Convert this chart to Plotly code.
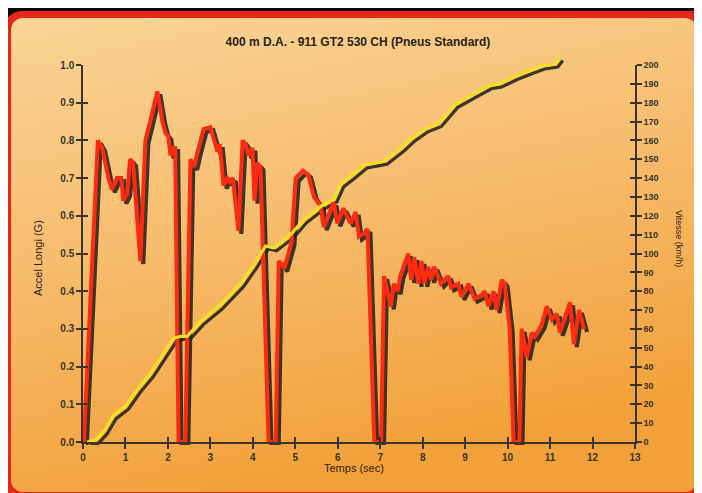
import base64
import plotly.graph_objects as go

# ---- data ----
acc_t = [0.00, 0.02, 0.35, 0.45, 0.60, 0.68, 0.80, 0.90, 0.95, 1.04, 1.11, 1.18, 1.35, 1.47, 1.58,
         1.75, 1.87, 1.94, 2.01, 2.06, 2.10, 2.17, 2.25, 2.41, 2.53, 2.62, 2.70, 2.84, 3.00, 3.10,
         3.17, 3.22, 3.31, 3.40, 3.46, 3.53, 3.66, 3.76, 3.83, 3.90, 3.99, 4.04, 4.10, 4.18, 4.23,
         4.37, 4.54, 4.61, 4.70, 4.74, 4.91, 5.01, 5.18, 5.30, 5.44, 5.60, 5.67, 5.90, 5.99, 6.13,
         6.30, 6.42, 6.50, 6.62, 6.70, 6.86, 7.02, 7.09, 7.25, 7.32, 7.41, 7.47, 7.66, 7.73, 7.80,
         7.90, 7.97, 8.04, 8.13, 8.20, 8.27, 8.43, 8.60, 8.67, 8.84, 8.91, 9.08, 9.22, 9.39, 9.46,
         9.55, 9.67, 9.74, 9.86, 9.93, 10.05, 10.14, 10.28, 10.33, 10.45, 10.57, 10.64, 10.80, 10.92,
         11.04, 11.16, 11.23, 11.35, 11.47, 11.56, 11.68, 11.80]
acc_g = [0.00, 0.00, 0.80, 0.78, 0.70, 0.67, 0.70, 0.70, 0.64, 0.66, 0.75, 0.74, 0.48, 0.80, 0.85,
         0.93, 0.85, 0.82, 0.81, 0.76, 0.78, 0.78, 0.00, 0.00, 0.75, 0.73, 0.77, 0.83, 0.835, 0.80,
         0.77, 0.79, 0.68, 0.70, 0.69, 0.70, 0.56, 0.80, 0.79, 0.76, 0.78, 0.64, 0.74, 0.73, 0.53,
         0.00, 0.00, 0.48, 0.47, 0.46, 0.53, 0.70, 0.72, 0.71, 0.65, 0.625, 0.57, 0.635, 0.58, 0.62,
         0.58, 0.61, 0.545, 0.555, 0.565, 0.00, 0.00, 0.44, 0.36, 0.42, 0.40, 0.44, 0.50, 0.43, 0.49,
         0.42, 0.48, 0.42, 0.465, 0.43, 0.465, 0.42, 0.44, 0.41, 0.42, 0.385, 0.42, 0.38, 0.39, 0.40,
         0.36, 0.40, 0.35, 0.43, 0.42, 0.30, 0.00, 0.00, 0.30, 0.225, 0.29, 0.28, 0.31, 0.36,
         0.325, 0.34, 0.29, 0.33, 0.37, 0.26, 0.35, 0.30]

spd_t = [0.10, 0.30, 0.50, 0.71, 1.00, 1.28, 1.58, 1.85, 2.13, 2.29, 2.45, 2.77, 3.20, 3.71, 4.02,
         4.30, 4.49, 4.89, 5.20, 5.37, 5.60, 5.91, 6.07, 6.30, 6.62, 7.09, 7.49, 7.73, 8.04, 8.37,
         8.75, 9.22, 9.55, 9.79, 10.17, 10.50, 10.80, 11.11, 11.23]
spd_kmh = [0, 1, 6, 14, 19, 28, 36, 45, 55, 56, 56, 64, 72, 84, 94,
           104, 103, 110, 118, 121, 125, 129, 137, 141, 147, 149, 156, 161, 166, 169,
           179, 185, 189, 190, 194, 197, 199.5, 200.5, 204]

x_ticks = list(range(0, 14))
acc_ticks = [i / 10 for i in range(0, 11)]
spd_ticks = list(range(0, 210, 10))

TITLE = "400 m D.A. - 911 GT2 530 CH (Pneus Standard)"
X_TITLE = "Temps (sec)"
Y_TITLE = "Accel Longi (G)"
Y2_TITLE = "Vitesse (km/h)"

# ---- layout geometry (figure pixels) ----
W, H = 702, 493
X0, X1 = 75, 627        # plot left / right
Y_TOP, Y_BOT = 57, 434  # y of top value (1.0 / 200) and of zero
SH = 3                  # shadow offset
HEAD = 10               # head room for the speed line overshoot
L, R = X0, W - (X1 + SH)
T, B = Y_TOP - HEAD, H - (Y_BOT + SH)
PW, PH = W - L - R, H - T - B


def fx(px):
    return (px - L) / PW


def fy(py):
    return (H - B - py) / PH


SPD_MAX = 200 * (Y_BOT - T) / (Y_BOT - Y_TOP)

RED = "#FF2A12"
YEL = "#F4DF24"
SHADOW = "rgba(38,34,26,0.88)"
AX = "#3a3526"
TXT = "#2a2418"
FONT = "Liberation Sans"

svg = f"""<svg xmlns='http://www.w3.org/2000/svg' width='{W}' height='{H}' viewBox='0 0 {W} {H}'>
<defs><linearGradient id='g' x1='0' y1='0' x2='0.3' y2='1'>
<stop offset='0' stop-color='#FAD496'/><stop offset='0.45' stop-color='#F7BE72'/>
<stop offset='1' stop-color='#F2A13A'/></linearGradient></defs>
<rect width='{W}' height='{H}' fill='#0b0806'/>
<rect x='-4' y='3' width='720' height='510' rx='18' fill='#E8261C'/>
<rect x='3' y='10' width='686' height='474' rx='12' fill='url(#g)'/>
</svg>"""
src = "data:image/svg+xml;base64," + base64.b64encode(svg.encode()).decode()

fig = go.Figure()

# shadow traces (first subplot -> drawn underneath)
fig.add_trace(go.Scatter(x=acc_t, y=acc_g, mode="lines", xaxis="x", yaxis="y",
                         line=dict(color=SHADOW, width=4), showlegend=False, hoverinfo="skip"))
fig.add_trace(go.Scatter(x=spd_t, y=spd_kmh, mode="lines", xaxis="x", yaxis="y2",
                         line=dict(color=SHADOW, width=3.2), showlegend=False, hoverinfo="skip"))
# main traces
fig.add_trace(go.Scatter(x=acc_t, y=acc_g, mode="lines", xaxis="x2", yaxis="y3",
                         line=dict(color=RED, width=4), showlegend=False))
fig.add_trace(go.Scatter(x=spd_t, y=spd_kmh, mode="lines", xaxis="x2", yaxis="y7",
                         line=dict(color=YEL, width=3.2), showlegend=False))
# dummy traces hosting axis overlays
for xa, ya in [("x2", "y4"), ("x3", "y3"), ("x2", "y5"), ("x2", "y6")]:
    fig.add_trace(go.Scatter(x=[None], y=[None], xaxis=xa, yaxis=ya, showlegend=False,
                             hoverinfo="skip"))

hidden = dict(visible=False, fixedrange=True)
tickfont = dict(family=FONT, size=10, color=AX, weight="bold")
line_common = dict(showgrid=False, zeroline=False, fixedrange=True, tickwidth=1.5,
                   tickcolor=AX, ticklen=5)

main_y_dom = [fy(Y_BOT), fy(Y_TOP)]

fig.update_layout(
    width=W, height=H,
    margin=dict(l=L, r=R, t=T, b=B),
    paper_bgcolor="#0b0806",
    plot_bgcolor="rgba(0,0,0,0)",
    showlegend=False,
    images=[dict(source=src, xref="paper", yref="paper", x=-L / PW, y=1 + T / PH,
                 sizex=W / PW, sizey=H / PH, xanchor="left", yanchor="top",
                 sizing="stretch", layer="below")],
    # shadow axes (hidden, offset right/down)
    xaxis=dict(domain=[fx(X0 + SH), fx(X1 + SH)], range=[0, 13], anchor="y", **hidden),
    yaxis=dict(domain=[fy(Y_BOT + SH), fy(Y_TOP + SH)], range=[0, 1], anchor="x", **hidden),
    yaxis2=dict(domain=[fy(Y_BOT + SH), fy(T + SH)], range=[0, SPD_MAX], anchor="x", **hidden),
    # visible axes
    xaxis2=dict(domain=[fx(X0), fx(X1)], range=[0, 13], anchor="y3", tickvals=x_ticks,
                ticks="outside", showline=True, linecolor=AX, linewidth=1.5,
                tickfont=tickfont, **line_common),
    yaxis3=dict(domain=main_y_dom, range=[0, 1], anchor="x2", tickvals=acc_ticks,
                tickformat=".1f", ticks="outside", showline=True, linecolor=AX, linewidth=1.5,
                tickfont=tickfont, **line_common),
    yaxis4=dict(range=[0, 200], overlaying="y3", anchor="x2", side="right", tickvals=spd_ticks,
                ticks="outside", showline=True, linecolor=AX, linewidth=1.5,
                tickfont=dict(family=FONT, size=9, color=AX, weight="bold"), **line_common),
    # hidden axis for the speed line, with head room so the overshoot is not clipped
    yaxis7=dict(domain=[fy(Y_BOT), fy(T)], range=[0, SPD_MAX], anchor="x2", **hidden),
    # inside-tick overlays so ticks cross the axis lines
    xaxis3=dict(range=[0, 13], overlaying="x2", anchor="y3", side="bottom", tickvals=x_ticks,
                ticks="inside", showticklabels=False, showline=False, **line_common),
    yaxis5=dict(range=[0, 1], overlaying="y3", anchor="x2", side="left", tickvals=acc_ticks,
                ticks="inside", showticklabels=False, showline=False, **line_common),
    yaxis6=dict(range=[0, 200], overlaying="y3", anchor="x2", side="right", tickvals=spd_ticks,
                ticks="inside", showticklabels=False, showline=False, **line_common),
    title=dict(text=f"<b>{TITLE}</b>", x=fx(350), xref="paper", y=1 - 34 / H, yref="container",
               xanchor="center", yanchor="middle",
               font=dict(family=FONT, size=12, color=TXT)),
    annotations=[
        dict(text=X_TITLE, xref="paper", yref="paper", x=fx(346), y=fy(460),
             xanchor="center", yanchor="middle", showarrow=False,
             font=dict(family=FONT, size=11, color=TXT)),
        dict(text=Y_TITLE, xref="paper", yref="paper", x=fx(30), y=fy(250),
             xanchor="center", yanchor="middle", textangle=-90, showarrow=False,
             font=dict(family=FONT, size=11, color=TXT)),
        dict(text=Y2_TITLE, xref="paper", yref="paper", x=fx(671), y=fy(230),
             xanchor="center", yanchor="middle", textangle=90, showarrow=False,
             font=dict(family=FONT, size=9, color=TXT)),
    ],
)

fig.write_html("out.html")
